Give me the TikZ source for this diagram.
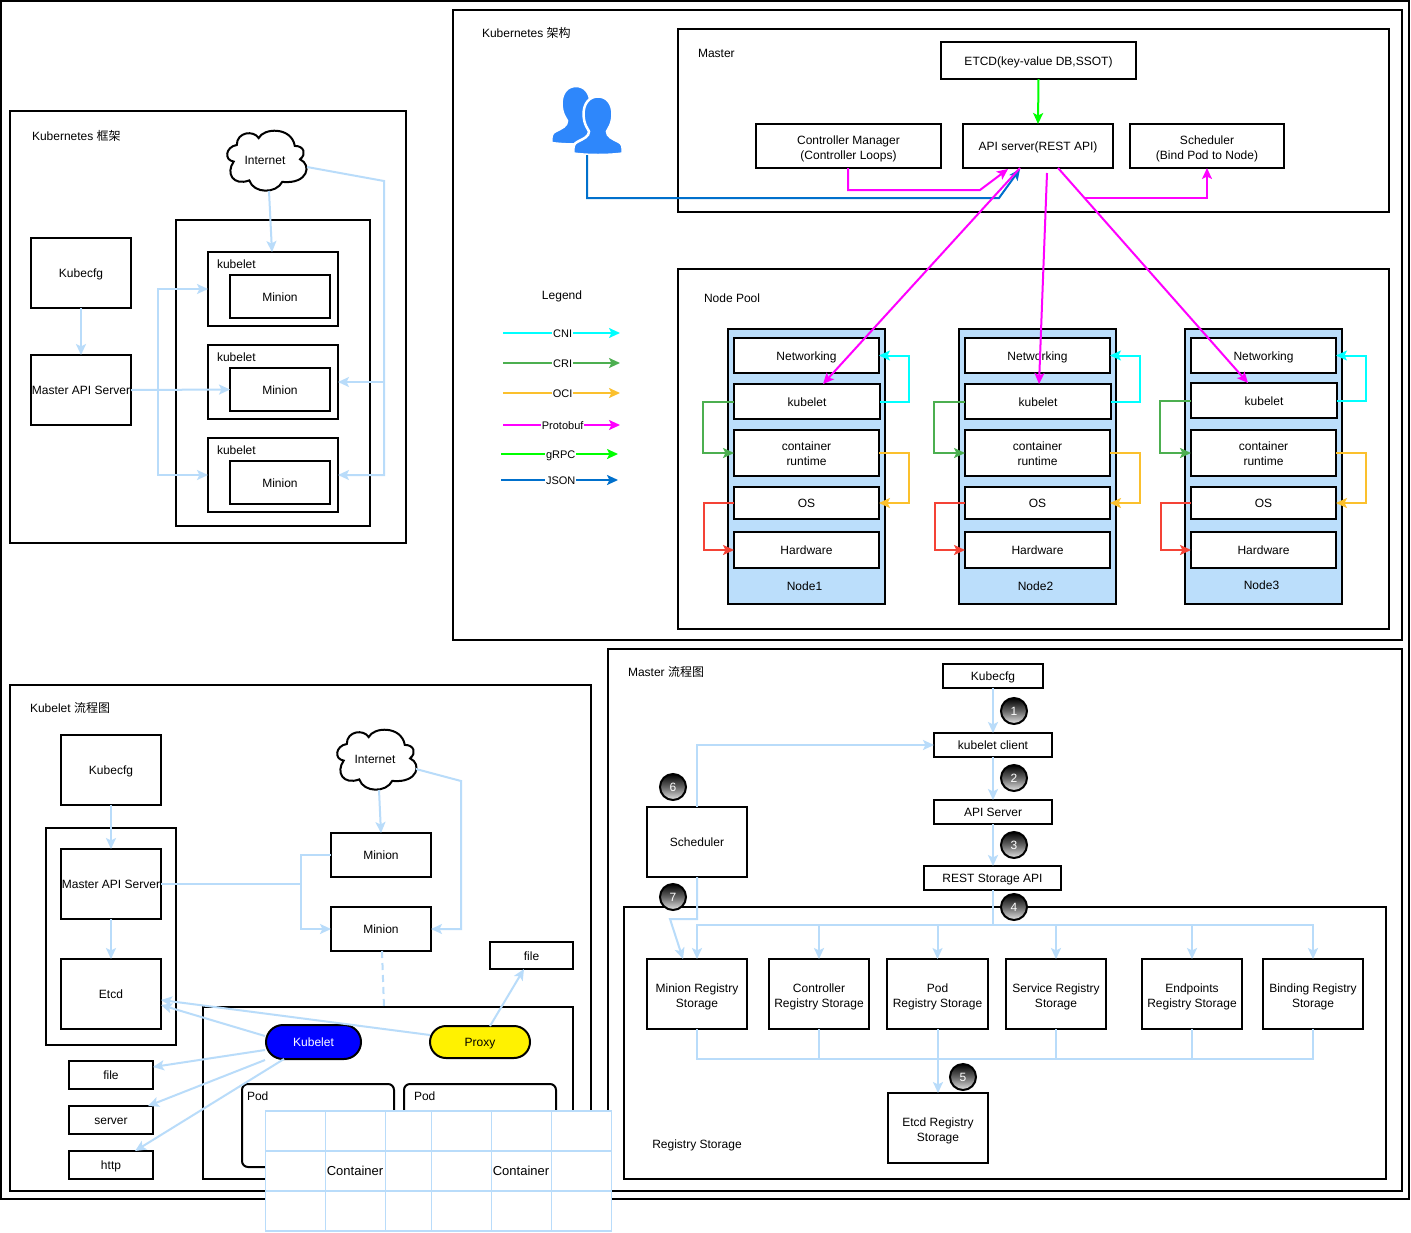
\documentclass[tikz,border=0pt]{standalone}
\usepackage{fontspec}
\setmainfont{Liberation Sans}
\newfontfamily\cjk{Noto Sans CJK SC}
\usetikzlibrary{arrows.meta,calc}
\definecolor{lb}{HTML}{B9DCFA}
\definecolor{nodeblue}{HTML}{BBDEFB}
\definecolor{mag}{HTML}{FF00FF}
\definecolor{grn}{HTML}{00FF00}
\definecolor{jsonblue}{HTML}{0070CC}
\definecolor{cyn}{HTML}{00FFFF}
\definecolor{crig}{HTML}{4CAF50}
\definecolor{ocy}{HTML}{FBC02D}
\definecolor{osr}{HTML}{F44336}
\definecolor{userblue}{HTML}{2E87FB}
\tikzset{
  nbox/.style={draw=black,line width=2pt,fill=white,inner sep=0pt,outer sep=0pt,align=center,text height=9.6pt,text depth=0pt,font=\fontsize{12}{15}\selectfont},
  ml/.style={text height=26.6pt},
  mlb/.style={text height=24.6pt},
  ttl/.style={inner sep=0pt,outer sep=0pt,anchor=west,text depth=0pt,font=\fontsize{12}{15}\selectfont},
  plain/.style={inner sep=0pt,text depth=0pt,font=\fontsize{12}{15}\selectfont},
  tip/.style={-{Stealth[length=11pt,width=10pt,inset=2.5pt]}},
  lbline/.style={draw=lb,line width=2pt},
  lbarrow/.style={lbline,tip},
  col/.style={draw=#1,line width=2pt,tip},
  leglab/.style={fill=white,inner xsep=1pt,inner ysep=2pt,text height=8pt,text depth=0pt,font=\fontsize{11}{13}\selectfont},
  cloudn/.style={inner sep=0pt,outer sep=0pt,minimum width=80pt,minimum height=62pt,text depth=0pt,font=\fontsize{12}{15}\selectfont},
  num/.style={circle,draw=black,line width=2pt,top color=black,bottom color=black!10,middle color=black!60,text=white,minimum size=26pt,inner sep=0pt,font=\fontsize{12}{15}\selectfont},
  grid/.style={draw=lb,line width=1.1pt},
}
\newcommand\bx[7][]{\node[nbox,minimum width={(#5)-(#3)},minimum height={(#6)-(#4)},#1] (#2) at ({((#3)+(#5))/2},{((#4)+(#6))/2}) {#7};}
\newcommand\cloudshape[2]{%
  \path[draw=black,fill=white,line width=2pt,shift={(#1,#2)},scale=0.94]
    (-33.3,1.7) .. controls (-44,0) and (-42,-14) .. (-30,-16)
    .. controls (-30,-30) and (-12,-32) .. (-6.7,-23.3)
    .. controls (-2,-34) and (28,-36) .. (31.7,-15)
    .. controls (42,-15) and (44,-6) .. (37.3,-0.7)
    .. controls (50,5) and (46,26) .. (18.3,23.3)
    .. controls (12,36) and (-12,36) .. (-16.7,21.7)
    .. controls (-34,28) and (-42,14) .. (-33.3,1.7) -- cycle;}
\newcommand\usericon[2]{%
  \path[fill=userblue,draw=white,line width=2.5pt,shift={(#1,#2)}]
    (-24.5,57) .. controls (-25,50) and (-24.5,47) .. (-20,45)
    .. controls (-14,42) and (-9,40) .. (-9,35)
    .. controls (-10,32) and (-14,29) .. (-14.5,18)
    .. controls (-14.5,6) and (-8,0) .. (0,0)
    .. controls (8,0) and (14.5,6) .. (14.5,18)
    .. controls (14,29) and (10,32) .. (9,35)
    .. controls (9,40) and (14,42) .. (20,45)
    .. controls (24.5,47) and (25,50) .. (24.5,57)
    .. controls (10,59) and (-10,59) .. (-24.5,57) -- cycle;}
\begin{document}
\begin{tikzpicture}[x=1pt,y=-1pt]
\useasboundingbox (0,0) rectangle (1411,1232);
\fill[white] (0,0) rectangle (1411,1232);
\bx{frame}{1}{1}{1409}{1199}{}
% ---------- Panel A
\bx{pA}{10}{111}{406}{543}{}
\node[ttl] (tA) at (32,135) {Kubernetes {\cjk 框架}};
\bx{aKube}{31}{238}{131}{308}{Kubecfg}
\bx{aApi}{31}{355}{131}{425}{Master API Server}
\bx{aBig}{176}{220}{370}{526}{}
\cloudshape{265}{160}
\node[cloudn] (aNet) at (265,160) {Internet};
\foreach \n/\y in {1/252,2/345,3/438}{
  \bx{aK\n}{208}{\y}{338}{\y+74}{}
  \node[ttl] (aKt\n) at (217,\y+12) {kubelet};
  \bx{aM\n}{230}{\y+23}{330}{\y+66}{Minion}
}
\draw[lbarrow] ([xshift=4pt]aNet.south) -- ([xshift=64pt]aK1.north west);
\draw[lbarrow] (aKube) -- (aApi);
\draw[lbarrow] (aApi.east) -- (aM2.west);
\coordinate (aTr) at (158,390);
\draw[lbarrow] (aTr) |- (aK1.west);
\draw[lbarrow] (aTr) |- ([yshift=-0pt]aK3.west);
\coordinate (aRt) at (384,181);
\coordinate (aRb) at (384,475);
\draw[lbarrow] ([xshift=42pt,yshift=-7pt]aNet.center) -- (aRt) -- (aRb) -- (aK3.east);
\coordinate (aRm) at (384,382);
\draw[lbarrow] (aRm) -- (aK2.east);
% ---------- Panel B
\bx{pB}{453}{10}{1402}{640}{}
\node[ttl] (tB) at (482,32.5) {Kubernetes {\cjk 架构}};
\bx{mast}{678}{29}{1389}{212}{}
\node[ttl] (tM) at (698,53.5) {Master};
\bx{etcd}{941}{42}{1136}{79}{ETCD(key-value DB,SSOT)}
\bx[ml]{ctrl}{756}{124}{941}{168}{Controller Manager\\(Controller Loops)}
\bx{apis}{963}{124}{1113}{168}{API server(REST API)}
\bx[ml]{sche}{1130}{124}{1284}{168}{Scheduler\\(Bind Pod to Node)}
\bx{npool}{678}{269}{1389}{629}{}
\node[ttl] (tP) at (704,298.5) {Node Pool};
\usericon{576}{86}
\usericon{598}{96.5}
\coordinate (usr) at (587,155);
\node[ttl,anchor=center] (tL) at (562,295) {Legend};
\foreach \n/\x/\ky/\lb in {1/0/0/0,2/231/0/0,3/457/-1/-1}{
  \bx[fill=nodeblue]{nd\n}{728+\x}{329}{885+\x}{604}{}
  \node[plain] (ndl\n) at (804.5+\x,586+\lb) {Node\n};
  \bx{net\n}{734+\x}{338}{879+\x}{373}{Networking}
  \bx{kub\n}{734+\x}{384+\ky}{880+\x}{419+\ky}{kubelet}
  \bx[mlb]{crt\n}{734+\x}{430}{879+\x}{476}{container\\runtime}
  \bx{os\n}{734+\x}{487}{879+\x}{519}{OS}
  \bx{hw\n}{734+\x}{532}{879+\x}{568}{Hardware}
  \draw[col=cyn] (kub\n.east) -- ++(29,0) |- (net\n.east);
  \draw[col=crig] (kub\n.west) -- ++(-31,0) |- (crt\n.west);
  \draw[col=ocy] (crt\n.east) -- ++(30,0) |- (os\n.east);
  \draw[col=osr] (os\n.west) -- ++(-30,0) |- (hw\n.west);
}
\draw[col=grn] (etcd.south) -- (apis.north);
\coordinate (cmj) at (980,190);
\draw[col=mag] ([xshift=-0.5pt]ctrl.south) -- ++(0,22) -- (cmj) -- ([xshift=45pt,yshift=-1pt]apis.south west);
\coordinate (usj) at (999,198);
\draw[col=jsonblue] (usr) |- (usj) -- ([xshift=57pt,yshift=-1pt]apis.south west);
\draw[col=mag] ([xshift=57pt]apis.south west) -- ([xshift=89pt]kub1.north west);
\draw[col=mag] ([xshift=84pt,yshift=-5pt]apis.south west) -- ([xshift=74pt]kub2.north west);
\draw[col=mag] ([xshift=95pt]apis.south west) -- ([xshift=57pt]kub3.north west);
\coordinate (scj) at (1085,198);
\draw[col=mag] (scj) -| (sche.south);
% legend
\foreach \k/\yy/\xa/\xb/\c/\t in {a/333/503/620/cyn/CNI,b/363/503/620/crig/CRI,c/393/503/620/ocy/OCI,d/425/503/620/mag/Protobuf,e/454/501/618/grn/gRPC,f/480/501/618/jsonblue/JSON}{
  \coordinate (lg\k0) at (\xa,\yy);
  \coordinate (lg\k1) at (\xb,\yy);
  \draw[col=\c] (lg\k0) -- node[leglab,pos=.51] (lgt\k) {\t} (lg\k1);
}
% ---------- Panel C
\bx{pC}{10}{685}{591}{1191}{}
\node[ttl] (tC) at (30,707) {Kubelet {\cjk 流程图}};
\bx{cKube}{61}{735}{161}{805}{Kubecfg}
\bx{cOut}{46}{828}{176}{1045}{}
\bx{cApi}{61}{849}{161}{919}{Master API Server}
\bx{cEtcd}{61}{959}{161}{1029}{Etcd}
\cloudshape{375}{759}
\node[cloudn] (cNet) at (375,759) {Internet};
\bx{cM1}{331}{833}{431}{877}{Minion}
\bx{cM2}{331}{907}{431}{951}{Minion}
\bx{cFileT}{490}{942}{573}{969}{file}
\bx{cBig}{203}{1007}{573}{1179}{}
\bx[fill=blue,text=white,rounded corners=17pt]{cKblt}{266}{1025}{361}{1059}{Kubelet}
\bx[fill=yellow,rounded corners=16pt]{cProx}{430}{1026}{530}{1058}{Proxy}
\bx[rounded corners=6pt]{cPod1}{242}{1084}{394}{1167}{}
\bx[rounded corners=6pt]{cPod2}{404}{1084}{556}{1167}{}
\node[ttl] (cP1t) at (247,1096) {Pod};
\node[ttl] (cP2t) at (414,1096) {Pod};
\bx{cF}{69}{1061}{153}{1089}{file}
\bx{cS}{69}{1106}{153}{1134}{server}
\bx{cH}{69}{1151}{153}{1179}{http}
\draw[lbarrow] (cKube) -- (cApi);
\draw[lbarrow] (cApi) -- (cEtcd);
\draw[lbarrow] ([xshift=4pt]cNet.south) -- (cM1.north);
\coordinate (cRt) at (461,781);
\draw[lbarrow] ([xshift=41pt,yshift=-10pt]cNet.center) -- (cRt) |- (cM2.east);
\coordinate (cJ) at (301,884);
\draw[lbline] (cApi.east) -- (cJ);
\draw[lbline] (cJ) |- (cM1.west);
\draw[lbarrow] (cJ) |- (cM2.west);
\draw[lbline,dash pattern=on 7pt off 5pt] ([xshift=1pt]cM2.south) -- ([xshift=181pt]cBig.north west);
\draw[lbarrow] ([xshift=-1pt,yshift=6pt]cKblt.west) -- ([yshift=-11pt]cEtcd.east);
\draw[lbarrow] ([yshift=7pt]cProx.west) -- ([yshift=-6pt]cEtcd.east);
\draw[lbarrow] ([xshift=-1pt,yshift=-8pt]cKblt.west) -- ([yshift=8pt]cF.east);
\draw[lbarrow] ([xshift=-1pt,yshift=-18pt]cKblt.west) -- ([xshift=79pt]cS.north west);
\draw[lbarrow] ([xshift=18pt]cKblt.south west) -- ([xshift=66pt]cH.north west);
\draw[lbarrow] ([xshift=60pt]cProx.north west) -- ([xshift=34pt]cFileT.south west);
% ---------- Panel D
\bx{pD}{608}{649}{1402}{1191}{}
\node[ttl] (tD) at (628,671) {Master {\cjk 流程图}};
\bx{dKube}{943}{664}{1043}{688}{Kubecfg}
\bx{dCli}{934}{733}{1052}{757}{kubelet client}
\bx{dApi}{934}{800}{1052}{824}{API Server}
\bx{dRest}{924}{866}{1061}{890}{REST Storage API}
\bx{dSch}{647}{807}{747}{877}{Scheduler}
\bx{dSto}{624}{907}{1386}{1179}{}
\node[plain] (dStoT) at (697,1144) {Registry Storage};
\bx[ml]{sA}{647}{959}{747}{1029}{Minion Registry\\Storage}
\bx[ml]{sB}{769}{959}{869}{1029}{Controller\\Registry Storage}
\bx[ml]{sC}{887}{959}{988}{1029}{Pod\\Registry Storage}
\bx[ml]{sD}{1006}{959}{1106}{1029}{Service Registry\\Storage}
\bx[ml]{sE}{1142}{959}{1242}{1029}{Endpoints\\Registry Storage}
\bx[ml]{sF}{1263}{959}{1363}{1029}{Binding Registry\\Storage}
\bx[ml]{sEtcd}{888}{1093}{988}{1163}{Etcd Registry\\Storage}
\draw[lbarrow] ([xshift=-50pt]dKube.south east) -- ([xshift=59pt]dCli.north west);
\draw[lbarrow] ([xshift=59pt]dCli.south west) -- ([xshift=59pt]dApi.north west);
\draw[lbarrow] ([xshift=59pt]dApi.south west) -- ([xshift=69pt]dRest.north west);
\draw[lbarrow] (dSch.north) |- (dCli.west);
\coordinate (dBus) at (993,925);
\draw[lbline] ([xshift=69pt]dRest.south west) -- (dBus);
\foreach \s in {sA,sB,sC,sD,sE,sF}{\draw[lbarrow] (dBus) -| (\s.north);}
\coordinate (dSj) at (670,919);
\draw[lbarrow] (dSch.south) |- (dSj) -- ([xshift=36pt]sA.north west);
\coordinate (dLow) at (938,1059);
\foreach \s in {sA,sB,sC,sD,sE,sF}{\draw[lbline] (\s.south) |- (dLow);}
\draw[lbarrow] ([xshift=0.5pt]sC.south) -- ([xshift=0pt]sEtcd.north);
\foreach \n/\x/\y in {1/1014/711,2/1014/778,3/1014/845,4/1014/907,5/963/1077,6/673/787,7/673/897}{
  \node[num] (num\n) at (\x,\y) {\n};
}
% ---------- Container tables
\foreach \n/\x/\tx in {1/265.8/355,2/431.8/521}{
  \node[grid,fill=white,inner sep=0pt,outer sep=0pt,minimum width=180pt,minimum height=120pt] (tab\n) at (\x+90,1171) {};
  \draw[grid] (\x+60,1111) -- (\x+60,1231) (\x+120,1111) -- (\x+120,1231)
              (\x,1151) -- (\x+180,1151) (\x,1191) -- (\x+180,1191);
  \node[plain,font=\fontsize{13}{15}\selectfont] (tabt\n) at (\tx,1171) {Container};
}
\end{tikzpicture}
\end{document}
